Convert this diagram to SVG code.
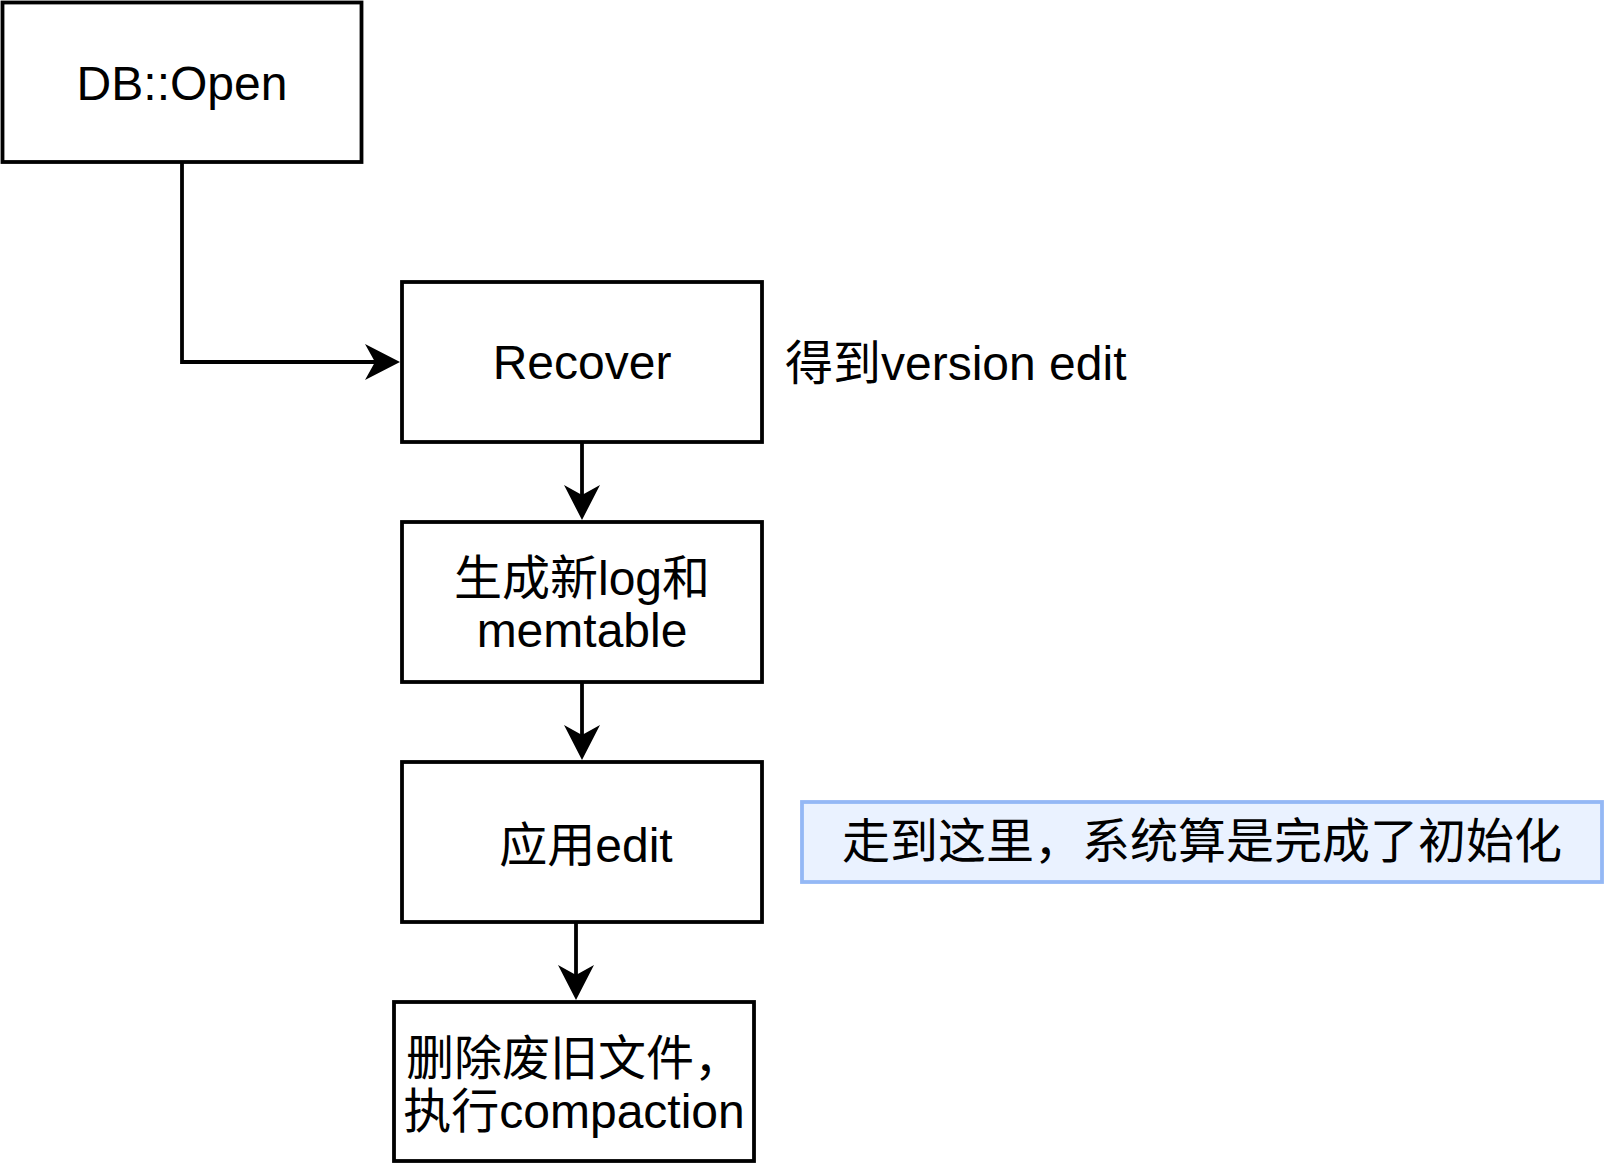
<svg xmlns="http://www.w3.org/2000/svg" width="1604" height="1164" viewBox="0 0 1604 1164">
<style>
.box{fill:#ffffff;stroke:#000000;stroke-width:3.8}
.note{fill:#eaf2ff;stroke:#94b8f5;stroke-width:3.8}
.t{font-family:"Liberation Sans","Noto Sans CJK SC",sans-serif;font-size:48px;fill:#000000}
.c{text-anchor:middle}
.edge{fill:none;stroke:#000000;stroke-width:3.8}
</style>
<defs>
<marker id="arr" markerUnits="userSpaceOnUse" viewBox="0 0 35 36" markerWidth="35" markerHeight="36" refX="10" refY="18" orient="auto">
<path d="M0,0 L35,18 L0,36 L10,18 Z" fill="#000000"/>
</marker>
</defs>
<rect width="1604" height="1164" fill="#ffffff"/>
<g id="connectors">
<path class="edge" d="M182,162 L182,362 L375,362" marker-end="url(#arr)"/>
<path class="edge" d="M582,442 L582,495" marker-end="url(#arr)"/>
<path class="edge" d="M582,682 L582,735" marker-end="url(#arr)"/>
<path class="edge" d="M576,922 L576,975" marker-end="url(#arr)"/>
</g>
<g id="db-open">
<rect class="box" x="2.5" y="2.5" width="359" height="159.5"/>
<text class="t c" x="182" y="100">DB::Open</text>
</g>
<g id="recover">
<rect class="box" x="402" y="282" width="360" height="160"/>
<text class="t c" x="582" y="379">Recover</text>
</g>
<g id="recover-label">
<text class="t" x="785" y="380">得到version edit</text>
</g>
<g id="new-log">
<rect class="box" x="402" y="522" width="360" height="160"/>
<text class="t c" x="582" y="595">生成新log和</text>
<text class="t c" x="582" y="647">memtable</text>
</g>
<g id="apply-edit">
<rect class="box" x="402" y="762" width="360" height="160"/>
<text class="t c" x="586" y="862">应用edit</text>
</g>
<g id="note">
<rect class="note" x="802" y="802" width="800" height="80"/>
<text class="t c" x="1202" y="858">走到这里，系统算是完成了初始化</text>
</g>
<g id="compaction">
<rect class="box" x="394" y="1002" width="360" height="159"/>
<text class="t c" x="574" y="1075">删除废旧文件，</text>
<text class="t c" x="574" y="1128">执行compaction</text>
</g>
</svg>
